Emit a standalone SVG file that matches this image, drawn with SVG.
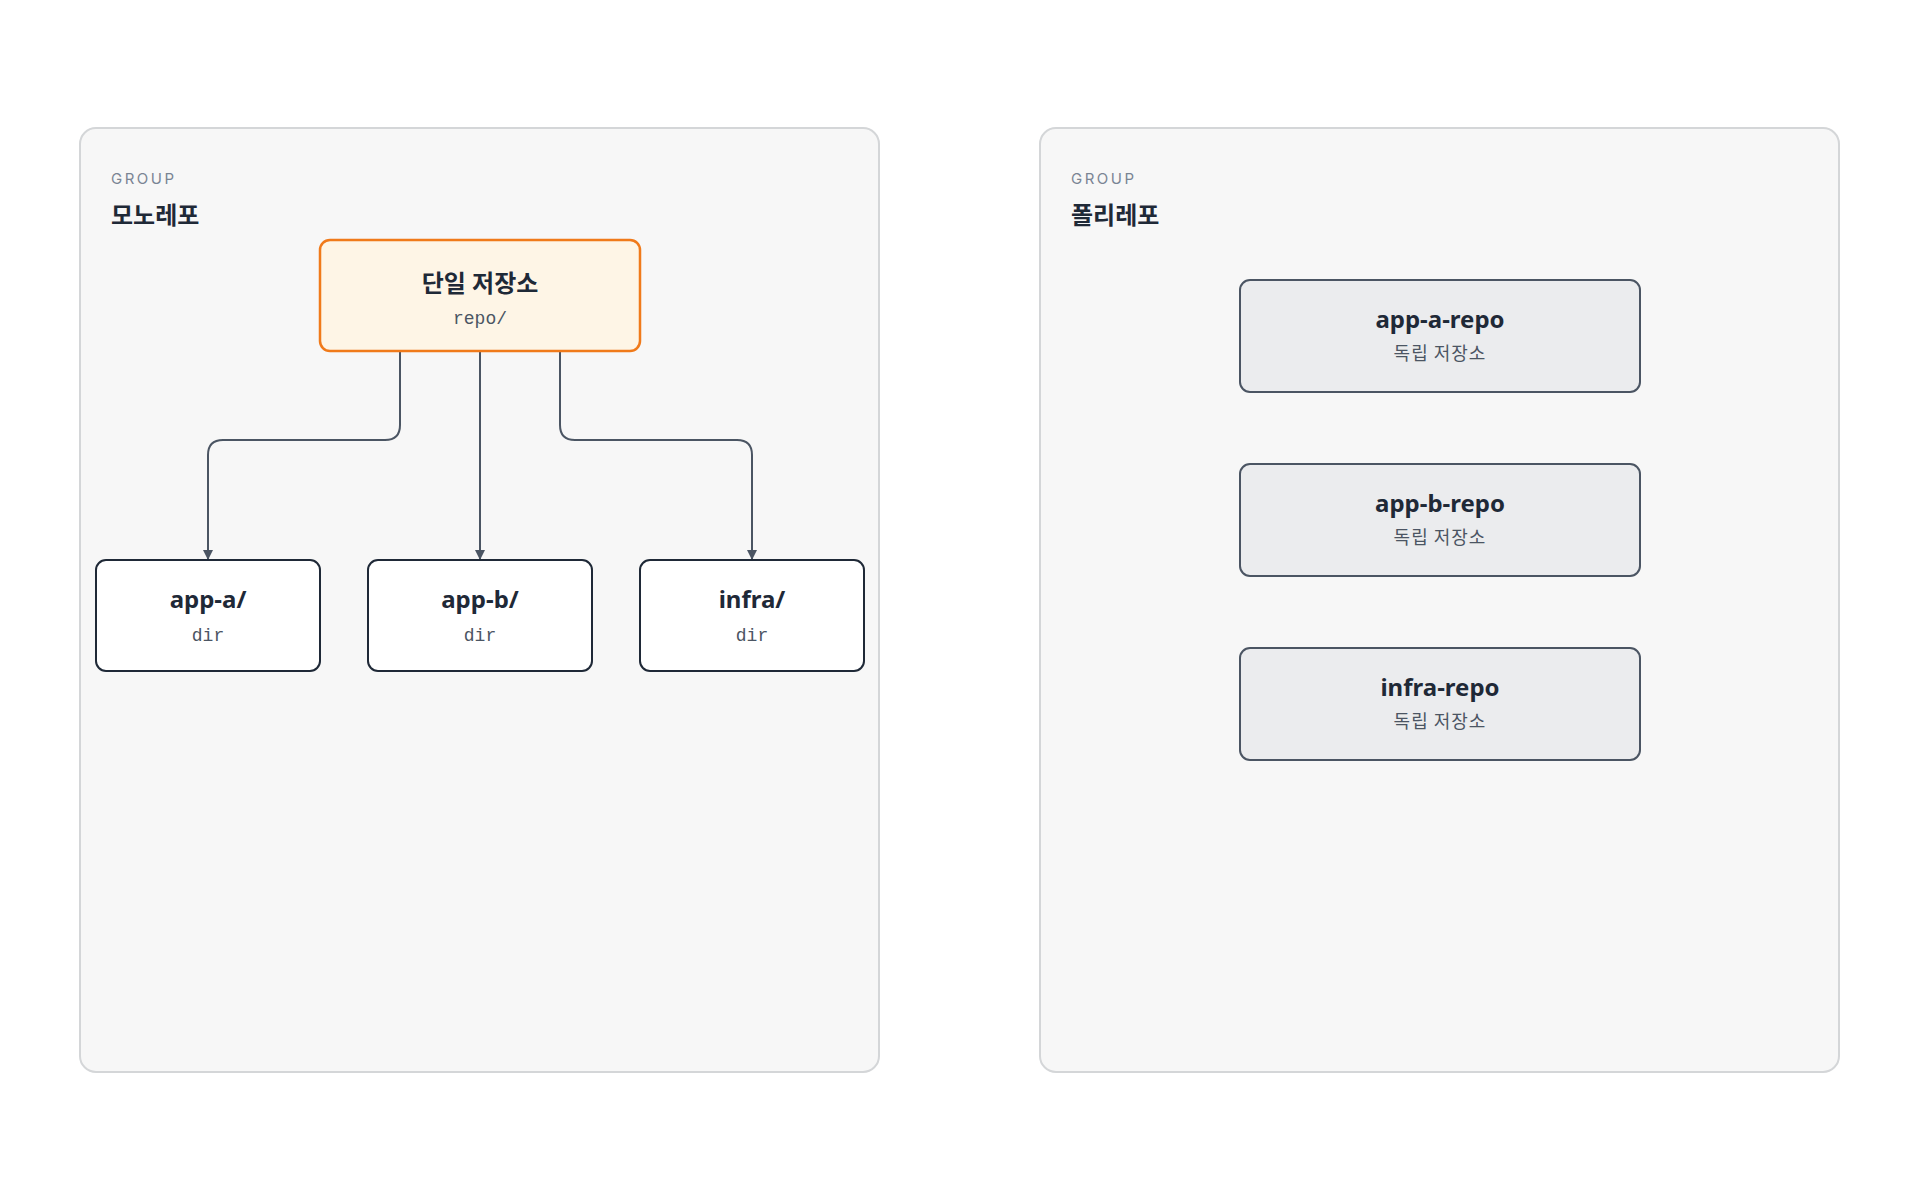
<svg xmlns="http://www.w3.org/2000/svg" width="1920" height="1200" viewBox="0 0 1920 1200">
<style>
.grp{fill:#f7f7f7;stroke:#d4d6d8;stroke-width:2}
.gl{font-family:Inter,"Noto Sans",sans-serif;font-size:15px;letter-spacing:2.5px;fill:#7a8594}
.gt{font-family:"Noto Sans CJK KR",sans-serif;font-size:24px;font-weight:700;fill:#1f2937}
.t{font-family:"Noto Sans","Noto Sans CJK KR",sans-serif;font-size:24px;font-weight:700;fill:#1f2937;text-anchor:middle}
.m{font-family:"Liberation Mono",monospace;font-size:18px;fill:#4b5563;text-anchor:middle}
.s{font-family:"Noto Sans CJK KR",sans-serif;font-size:18px;letter-spacing:1px;fill:#4b5563;text-anchor:middle}
.n{fill:#fff;stroke:#1f2937;stroke-width:2}
.r{fill:#ebecee;stroke:#4b5563;stroke-width:2}
.e{fill:none;stroke:#4b5563;stroke-width:2}
</style>
<defs><marker id="a" markerWidth="10" markerHeight="10" refX="9" refY="5" orient="auto" markerUnits="userSpaceOnUse"><path d="M0,0L10,5L0,10z" fill="#4b5563"/></marker></defs>
<rect width="1920" height="1200" fill="#fff"/>
<g id="mono"><rect class="grp" x="80" y="128" width="799" height="944" rx="16"/><text class="gl" x="111" y="184">GROUP</text><text class="gt" x="111" y="224">모노레포</text></g>
<g id="poly"><rect class="grp" x="1040" y="128" width="799" height="944" rx="16"/><text class="gl" x="1071" y="184">GROUP</text><text class="gt" x="1071" y="224">폴리레포</text></g>
<g id="edges">
<path class="e" d="M400,352V425Q400,440 385,440H223Q208,440 208,455V559" marker-end="url(#a)"/>
<path class="e" d="M480,352V559" marker-end="url(#a)"/>
<path class="e" d="M560,352V425Q560,440 575,440H737Q752,440 752,455V559" marker-end="url(#a)"/>
</g>
<g id="repo"><rect x="320" y="240" width="320" height="111" rx="10" fill="#fef5e6" stroke="#f07a1a" stroke-width="2.5"/><text class="t" x="480" y="292">단일 저장소</text><text class="m" x="480" y="324">repo/</text></g>
<g id="appa"><rect class="n" x="96" y="560" width="224" height="111" rx="10"/><text class="t" x="208" y="608">app-a/</text><text class="m" x="208" y="641">dir</text></g>
<g id="appb"><rect class="n" x="368" y="560" width="224" height="111" rx="10"/><text class="t" x="480" y="608">app-b/</text><text class="m" x="480" y="641">dir</text></g>
<g id="infra"><rect class="n" x="640" y="560" width="224" height="111" rx="10"/><text class="t" x="752" y="608">infra/</text><text class="m" x="752" y="641">dir</text></g>
<g id="ra"><rect class="r" x="1240" y="280" width="400" height="112" rx="10"/><text class="t" x="1440" y="328">app-a-repo</text><text class="s" x="1440" y="360">독립 저장소</text></g>
<g id="rb"><rect class="r" x="1240" y="464" width="400" height="112" rx="10"/><text class="t" x="1440" y="512">app-b-repo</text><text class="s" x="1440" y="544">독립 저장소</text></g>
<g id="ri"><rect class="r" x="1240" y="648" width="400" height="112" rx="10"/><text class="t" x="1440" y="696">infra-repo</text><text class="s" x="1440" y="728">독립 저장소</text></g>
</svg>
